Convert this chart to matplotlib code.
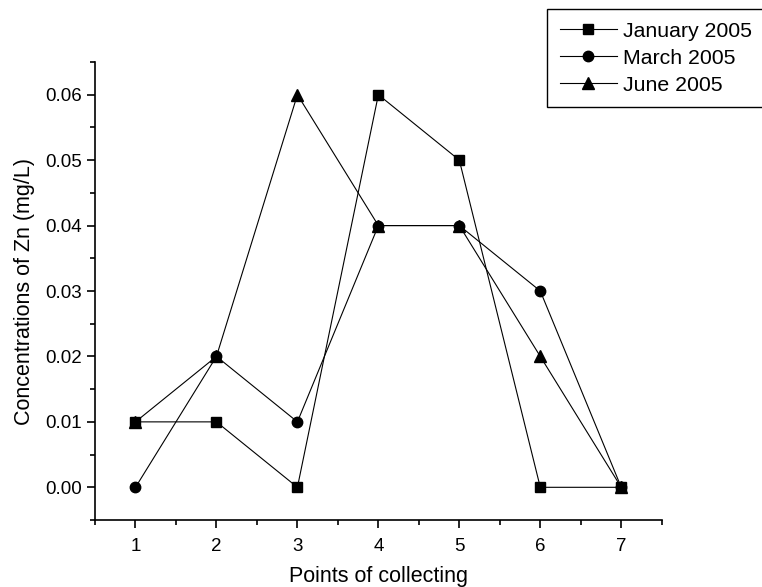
import matplotlib
matplotlib.use("Agg")
import matplotlib.pyplot as plt
from matplotlib.ticker import MultipleLocator

plt.rcParams['font.family'] = ['Liberation Sans', 'DejaVu Sans']

points = [1, 2, 3, 4, 5, 6, 7]
january = [0.01, 0.01, 0.00, 0.06, 0.05, 0.00, 0.00]
march = [0.00, 0.02, 0.01, 0.04, 0.04, 0.03, 0.00]
june = [0.01, 0.02, 0.06, 0.04, 0.04, 0.02, 0.00]

fig = plt.figure(figsize=(7.62, 5.87), dpi=100)
ax = fig.add_axes([0.1247, 0.1141, 0.7437, 0.7803])

ax.plot(points, january, color="black", lw=0.8, marker="s", ms=7, label="January 2005")
ax.plot(points, march, color="black", lw=0.8, marker="o", ms=7.5, label="March 2005")
ax.plot(points, june, color="black", lw=0.8, marker="^", ms=8.5, label="June 2005")

ax.set_xlim(0.5, 7.5)
ax.set_ylim(-0.005, 0.065)
ax.xaxis.set_major_locator(MultipleLocator(1))
ax.xaxis.set_minor_locator(MultipleLocator(0.5))
ax.yaxis.set_major_locator(MultipleLocator(0.01))
ax.yaxis.set_minor_locator(MultipleLocator(0.005))
ax.yaxis.set_major_formatter(plt.FormatStrFormatter("%.2f"))

ax.spines["top"].set_visible(False)
ax.spines["right"].set_visible(False)
ax.spines["left"].set_linewidth(1.2)
ax.spines["bottom"].set_linewidth(1.2)
ax.tick_params(which="major", length=6, width=1.2, labelsize=13.5, direction="out")
ax.tick_params(which="minor", length=3.5, width=1.2, direction="out")
ax.tick_params(axis="x", pad=7)

ax.set_xlabel("Points of collecting", fontsize=15.5, labelpad=8)
ax.set_ylabel("Concentrations of Zn (mg/L)", fontsize=15.5, labelpad=7)

leg = fig.legend(loc="upper right", bbox_to_anchor=(1.004, 0.985), fontsize=15.3,
                 handlelength=2.7, handletextpad=0.3, labelspacing=0.38,
                 borderpad=0.6, fancybox=False, framealpha=1, borderaxespad=0)
leg.get_frame().set_edgecolor("black")
leg.get_frame().set_linewidth(1.0)

fig.savefig("out.png", dpi=100)
